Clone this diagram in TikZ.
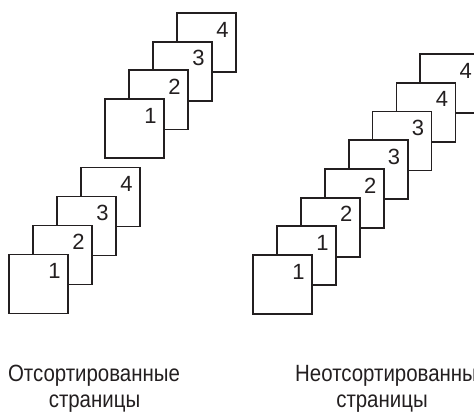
\documentclass[tikz,border=0pt]{standalone}
\usepackage{fontspec}
\setmainfont{Liberation Sans}
\newfontfamily\narrowfont[FakeStretch=0.87]{Liberation Sans}
\usetikzlibrary{calc}
\definecolor{ink}{HTML}{231F20}
\tikzset{
  pagebox/.style={draw=ink, line width=1.8pt, fill=white, minimum size=59pt, inner sep=0pt, outer sep=0pt, anchor=north west},
  digit/.style={text=ink, font=\fontsize{22}{22}\selectfont, inner sep=0pt},
  caption/.style={text=ink, font=\narrowfont\fontsize{23.5}{26}\selectfont, inner sep=0pt, anchor=base}
}
\newcommand{\pg}[4]{% name, x, y, digit
  \node[pagebox] (#1) at (#2,#3) {};
  \node[digit] (#1d) at ($(#1.north east)+(-13.5,16.5)$) {#4};
}
\begin{document}
\begin{tikzpicture}[x=1pt,y=-1pt]
\useasboundingbox (0,0) rectangle (474,412);
\clip (0,0) rectangle (474,412);
% upper left stack
\pg{ua}{177}{13}{4}
\pg{ub}{153}{41.7}{3}
\pg{uc}{129}{70.4}{2}
\pg{ud}{105}{99}{1}
% lower left stack
\pg{la}{81}{167.5}{4}
\pg{lb}{57}{196.5}{3}
\pg{lc}{33}{225.5}{2}
\pg{ld}{9}{254.5}{1}
% right stack
\pg{ra}{420.3}{54.1}{4}
\pg{rb}{396.4}{82.8}{4}
\pg{rc}{372.5}{111.5}{3}
\pg{rd}{348.6}{140.2}{3}
\pg{re}{324.7}{168.9}{2}
\pg{rf}{300.8}{197.6}{2}
\pg{rg}{276.9}{226.3}{1}
\pg{rh}{253}{255}{1}
% captions
\node[caption] (c1) at (94,381) {Отсортированные};
\node[caption] (c2) at (94.5,407) {страницы};
\node[caption, anchor=base west] (c3) at (295,381) {Неотсортированные};
\node[caption] (c4) at (382,407) {страницы};
\end{tikzpicture}
\end{document}
